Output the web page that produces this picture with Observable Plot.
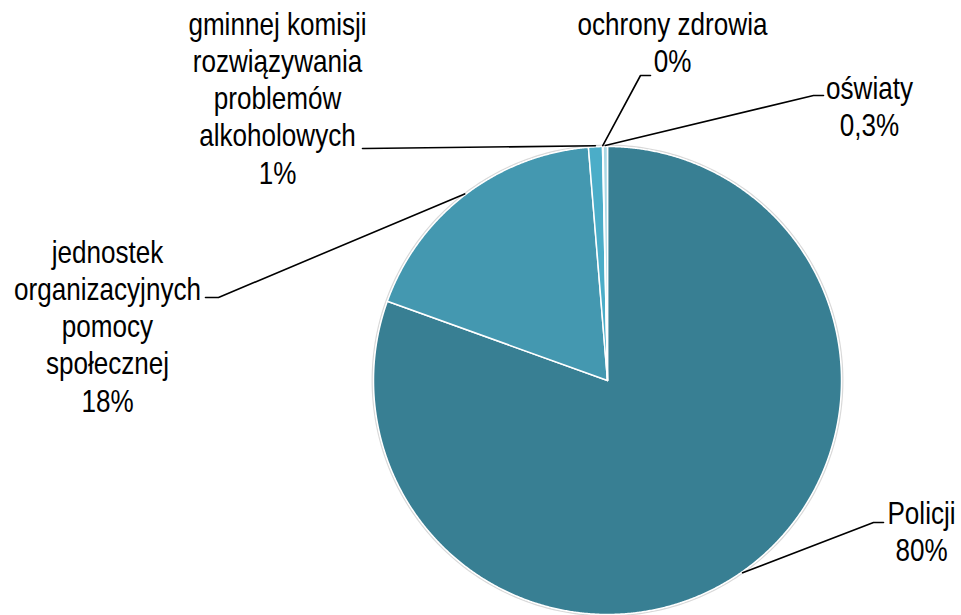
<!DOCTYPE html>
<html>
<head>
<meta charset="utf-8">
<script src="https://cdn.jsdelivr.net/npm/d3@7"></script>
<script src="https://cdn.jsdelivr.net/npm/@observablehq/plot@0.6"></script>
<style>
  html, body { margin: 0; padding: 0; background: #fff; }
  #chart svg { display: block; }
</style>
</head>
<body>
<div id="chart"></div>
<script>
// ---- data ----
const categories = ["Policji", "jednostek organizacyjnych pomocy społecznej", "gminnej komisji rozwiązywania problemów alkoholowych", "ochrony zdrowia", "oświaty"];
const labelTexts = ["Policji", "jednostek\norganizacyjnych\npomocy\nspołecznej", "gminnej komisji\nrozwiązywania\nproblemów\nalkoholowych", "ochrony zdrowia", "oświaty"];
const values = [80.5, 18.2, 0.96, 0.04, 0.3];
const valueLabels = ["80%", "18%", "1%", "0%", "0,3%"];

// ---- layout / style ----
const W = 961, H = 615;
const CX = 607, CY = 380, R = 234;
const colors = ["#387f93", "#4498b0", "#4badc8", "#9fd3e2", "#a9d8e5"];
const labelPos = [ // text block centre, leader elbow, leader end
  {tx: 921, ty: 530, ex: 873, ey: 522, fx: 883, fy: 522},
  {tx: 107, ty: 325, ex: 218, ey: 297, fx: 205, fy: 297},
  {tx: 277, ty: 97,  ex: 364, ey: 148, fx: 362, fy: 148},
  {tx: 672, ty: 41,  ex: 640, ey: 75,  fx: 650, fy: 75},
  {tx: 869, ty: 105, ex: 813, ey: 95,  fx: 823, fy: 95}
];
const font = "'Liberation Sans', Arial, sans-serif";
const narrow = 0.815;

const arcs = d3.pie().sort(null).value(d => d)(values);
const pt = (a, r) => ({x: CX + r * Math.sin(a), y: CY - r * Math.cos(a)});

const slicePts = [];
arcs.forEach((a, i) => {
  slicePts.push({cat: categories[i], ...pt(0, 0)});
  const n = Math.max(2, Math.ceil((a.endAngle - a.startAngle) / 0.005));
  for (let k = 0; k <= n; k++) {
    const ang = a.startAngle + (a.endAngle - a.startAngle) * k / n;
    slicePts.push({cat: categories[i], ...pt(ang, R)});
  }
});

const rimPts = d3.range(0, 361, 1).map(d => pt(d * Math.PI / 180, R + 1.2));

const leaderPts = [];
arcs.forEach((a, i) => {
  const mid = (a.startAngle + a.endAngle) / 2;
  const lp = labelPos[i];
  leaderPts.push({cat: categories[i], ...pt(mid, R + 1)});
  leaderPts.push({cat: categories[i], x: lp.ex, y: lp.ey});
  leaderPts.push({cat: categories[i], x: lp.fx, y: lp.fy});
});

const labelData = categories.map((c, i) => ({
  cat: c, x: labelPos[i].tx, y: labelPos[i].ty,
  text: labelTexts[i] + "\n" + valueLabels[i]
}));

const chart = Plot.plot({
  width: W, height: H, margin: 0,
  x: {domain: [0, W], range: [0, W], axis: null},
  y: {domain: [0, H], range: [0, H], axis: null},
  color: {domain: categories, range: colors},
  style: {background: "white"},
  marks: [
    Plot.line(rimPts, {x: "x", y: "y", stroke: "#d9d9d9", strokeWidth: 1.5}),
    Plot.line(slicePts, {x: "x", y: "y", z: "cat", fill: "cat", stroke: "white", strokeWidth: 1.5, curve: "linear-closed"}),
    Plot.line(leaderPts, {x: "x", y: "y", z: "cat", stroke: "black", strokeWidth: 1.6}),
    Plot.text(labelData, {x: "x", y: "y", text: "text", fontSize: 32, lineHeight: 1.16, fontFamily: font, fill: "black", textAnchor: "middle", lineAnchor: "middle", className: "lbl"})
  ]
});
// condense the label font horizontally (Arial Narrow look)
chart.querySelectorAll("g.lbl text").forEach(t => {
  const tr = t.getAttribute("transform") || "";
  t.setAttribute("transform", tr + ` scale(${narrow},1)`);
});
document.getElementById("chart").appendChild(chart);
</script>
</body>
</html>
